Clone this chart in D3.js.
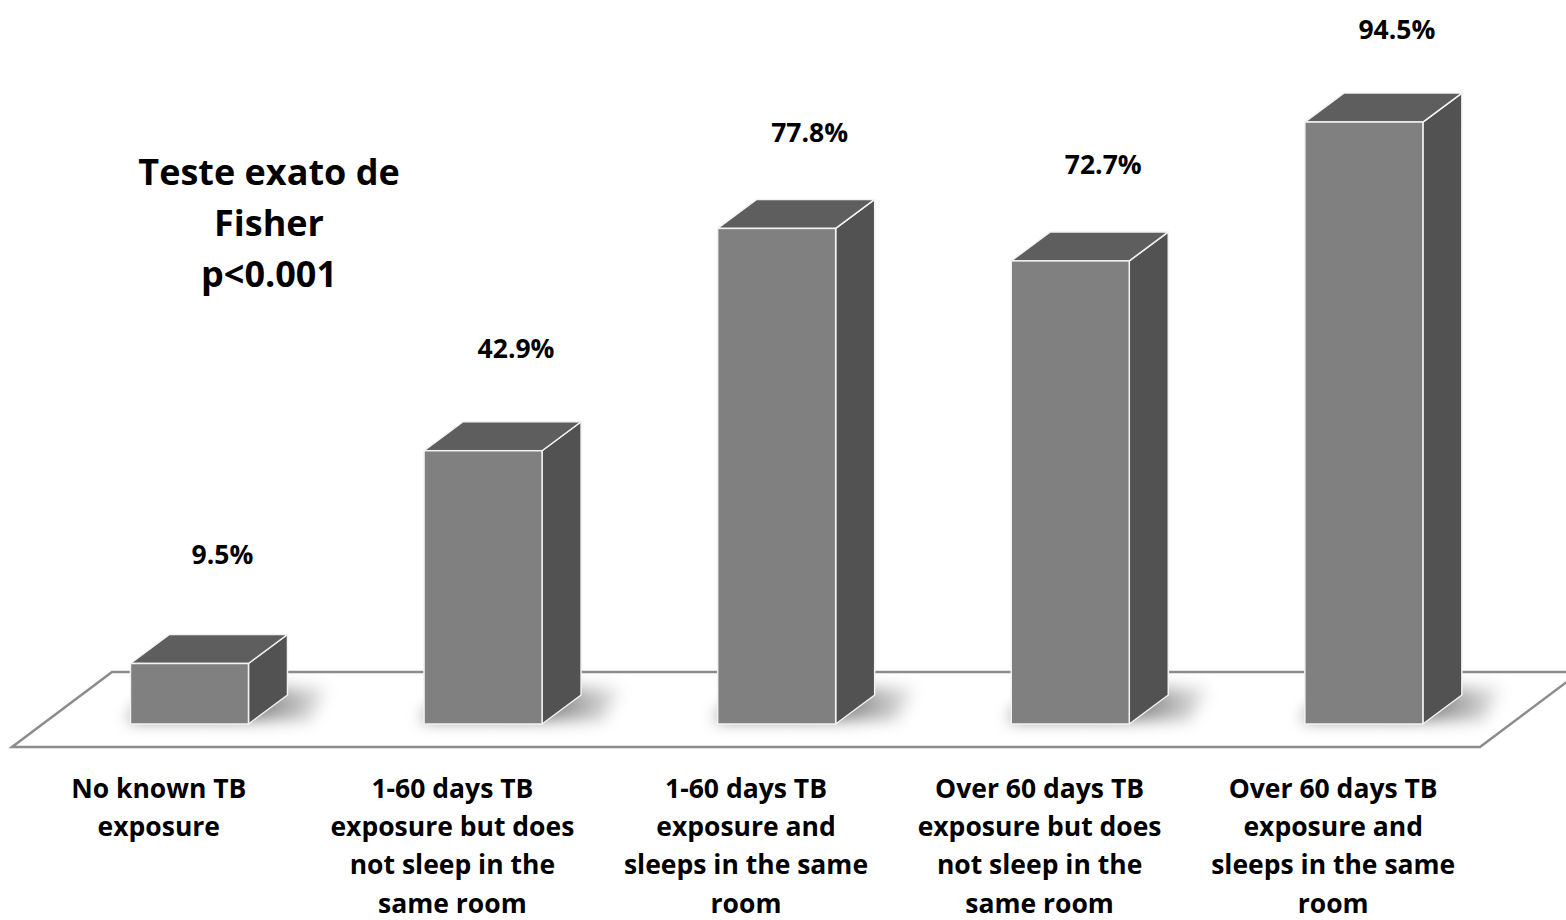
<!DOCTYPE html>
<html>
<head>
<meta charset="utf-8">
<script src="https://cdn.jsdelivr.net/npm/d3@7"></script>
<style>
  html, body { margin: 0; padding: 0; background: #ffffff; }
  svg { display: block; }
  text { font-family: "Open Sans", "Noto Sans", sans-serif; font-weight: 700; fill: #000; }
</style>
</head>
<body>
<script>
// Share of contacts with positive result, by type of TB exposure
const categories = [
  "No known TB\nexposure",
  "1-60 days TB\nexposure but does\nnot sleep in the\nsame room",
  "1-60 days TB\nexposure and\nsleeps in the same\nroom",
  "Over 60 days TB\nexposure but does\nnot sleep in the\nsame room",
  "Over 60 days TB\nexposure and\nsleeps in the same\nroom"
];
const values = [9.5, 42.9, 77.8, 72.7, 94.5];
const valueLabels = ["9.5%", "42.9%", "77.8%", "72.7%", "94.5%"];
const noteLines = ["Teste exato de", "Fisher", "p<0.001"];

const W = 1566, H = 920;
const svg = d3.select("body").append("svg").attr("width", W).attr("height", H);

// oblique projection for depth
const depthX = 39, depthY = 29;          // bar depth
const floorDX = 100, floorDY = 75;       // full floor depth
const baseY = 724;                       // bar front-plane baseline
const floorFront = baseY + 23;
const frontShift = 23 * floorDX / floorDY;

const x = d3.scaleBand()
  .domain(d3.range(categories.length))
  .range([12 + frontShift, 12 + frontShift + 1468])
  .paddingInner(0).paddingOuter(0);
const barW = x.bandwidth() * 0.402;

const y = d3.scaleLinear().domain([0, 100]).range([baseY, baseY - 637]);
// data label baseline position
const yLabel = d3.scaleLinear().domain([0, 100]).range([623, 5]);

const defs = svg.append("defs");
defs.append("filter").attr("id", "shadowBlur")
  .attr("x", "-50%").attr("y", "-80%").attr("width", "200%").attr("height", "260%")
  .append("feGaussianBlur").attr("stdDeviation", 8);
const grad = defs.append("linearGradient").attr("id", "shadowFade")
  .attr("x1", "0").attr("x2", "1").attr("y1", "0").attr("y2", "0");
grad.append("stop").attr("offset", "0").attr("stop-color", "#000").attr("stop-opacity", 0.6);
grad.append("stop").attr("offset", "0.6").attr("stop-color", "#000").attr("stop-opacity", 0.55);
grad.append("stop").attr("offset", "1").attr("stop-color", "#000").attr("stop-opacity", 0.08);

// floor
const fl = 12, fr = 12 + 1468;
svg.append("path")
  .attr("d", d3.line()([
    [fl, floorFront], [fl + floorDX, floorFront - floorDY],
    [fr + floorDX, floorFront - floorDY], [fr, floorFront]
  ]) + "Z")
  .attr("fill", "#fff")
  .attr("stroke", "#8c8c8c")
  .attr("stroke-width", 2.5);

const idx = d3.range(values.length);

// soft shadows cast on the floor
svg.append("g").selectAll("path").data(idx).join("path")
  .attr("d", i => {
    const x0 = x(i) + x.bandwidth() / 2 - barW / 2;
    const x1 = x0 + barW;
    return d3.line()([
      [x0 - 4, baseY - 4], [x0 + 30, baseY - 36], [x1 + depthX + 40, baseY - 36],
      [x1 + depthX + 22, baseY - 4]
    ]) + "Z";
  })
  .attr("fill", "url(#shadowFade)")
  .attr("filter", "url(#shadowBlur)");

// 3D bars
const bars = svg.append("g").selectAll("g").data(idx).join("g");
const edge = "#f2f2f2";
bars.each(function(i) {
  const g = d3.select(this);
  const x0 = x(i) + x.bandwidth() / 2 - barW / 2;
  const x1 = x0 + barW;
  const yt = y(values[i]);
  const line = d3.line();
  // side face
  g.append("path")
    .attr("d", line([[x1, yt], [x1 + depthX, yt - depthY], [x1 + depthX, baseY - depthY], [x1, baseY]]) + "Z")
    .attr("fill", "#525252").attr("stroke", edge).attr("stroke-width", 1.5).attr("stroke-linejoin", "round");
  // top face
  g.append("path")
    .attr("d", line([[x0, yt], [x0 + depthX, yt - depthY], [x1 + depthX, yt - depthY], [x1, yt]]) + "Z")
    .attr("fill", "#5e5e5e").attr("stroke", edge).attr("stroke-width", 1.5).attr("stroke-linejoin", "round");
  // front face
  g.append("rect")
    .attr("x", x0).attr("y", yt).attr("width", barW).attr("height", baseY - yt)
    .attr("fill", "#808080").attr("stroke", edge).attr("stroke-width", 1.5);
});

// value labels
svg.append("g").selectAll("text").data(idx).join("text")
  .attr("x", i => x(i) + x.bandwidth() / 2 + 33)
  .attr("y", i => yLabel(values[i]))
  .attr("text-anchor", "middle")
  .attr("font-size", 26.5)
  .text(i => valueLabels[i]);

// category labels
const cat = svg.append("g").selectAll("text").data(idx).join("text")
  .attr("text-anchor", "middle")
  .attr("font-size", 26.5)
  .attr("x", i => x(i) + x.bandwidth() / 2 - frontShift)
  .attr("y", 798);
cat.each(function(i) {
  const t = d3.select(this);
  categories[i].split("\n").forEach((ln, k) => {
    t.append("tspan")
      .attr("x", x(i) + x.bandwidth() / 2 - frontShift)
      .attr("y", 798 + k * 38.2)
      .text(ln);
  });
});

// statistical test note
svg.append("g").selectAll("text").data(noteLines).join("text")
  .attr("x", 269)
  .attr("y", (d, k) => 185 + k * 51)
  .attr("text-anchor", "middle")
  .attr("font-size", 36)
  .text(d => d);
</script>
</body>
</html>
